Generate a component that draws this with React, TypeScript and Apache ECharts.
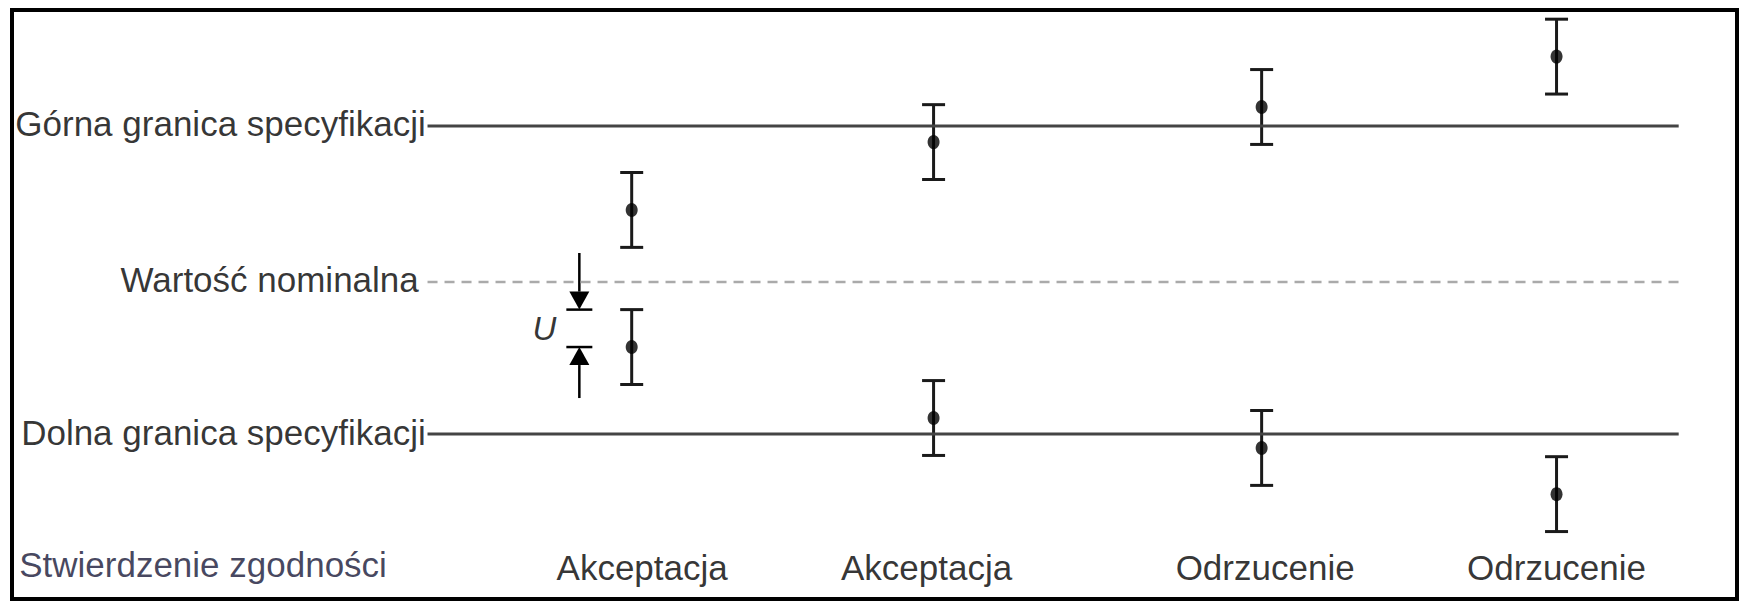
import React, { useEffect, useRef } from "react";
import * as echarts from "echarts";

// ---- data ----
const columnX = [36.2, 53.5, 72.3, 89.2];
const upperValues = [4.62, 8.97, 11.22, 14.45];
const lowerValues = [-4.17, -8.72, -10.64, -13.6];
const uncertainty = 2.4;

const verdicts = ["Akceptacja", "Akceptacja", "Odrzucenie", "Odrzucenie"];
const verdictX = [36.8, 53.1, 72.5, 89.2];
const verdictY = -18.3;

const upperSpec = 10;
const nominal = 0;
const lowerSpec = -9.75;
const limitStartX = 24.5;
const limitEndX = 96.2;
const limitLabels = ["Górna granica specyfikacji", "Wartość nominalna", "Dolna granica specyfikacji"];
const limitLabelX = [24.4, 24.0, 24.4];
const limitLabelY = [10.15, 0.15, -9.65];

const conformityTitle = "Stwierdzenie zgodności";
const conformityX = 1.1;
const conformityY = -18.14;

// U annotation: [x, from, to]
const uArrows = [
  [33.2, 1.86, -1.77],
  [33.2, -7.44, -4.17],
];
const uLabel = { x: 31.2, y: -2.95, text: "U" };

const X_MIN = 0;
const X_MAX = 100;
const Y_MIN = -20.58;
const Y_MAX = 18.08;

const FONT = "'Liberation Sans', Arial, Helvetica, sans-serif";

export default function App() {
  const ref = useRef<HTMLDivElement>(null);

  useEffect(() => {
    if (!ref.current) return;
    const chart = echarts.init(ref.current, null, { renderer: "svg" });

    const errorData: number[][] = [];
    columnX.forEach((x, i) => {
      errorData.push([x, upperValues[i] - uncertainty, upperValues[i] + uncertainty]);
      errorData.push([x, lowerValues[i] - uncertainty, lowerValues[i] + uncertainty]);
    });
    const pointData: number[][] = [];
    columnX.forEach((x, i) => {
      pointData.push([x, upperValues[i]]);
      pointData.push([x, lowerValues[i]]);
    });

    const option: any = {
      animation: false,
      backgroundColor: "#ffffff",
      grid: { left: 0, right: 0, top: 0, bottom: 0 },
      xAxis: { type: "value", min: X_MIN, max: X_MAX, show: false, splitLine: { show: false } },
      yAxis: { type: "value", min: Y_MIN, max: Y_MAX, show: false, splitLine: { show: false } },
      graphic: [
        {
          type: "rect",
          shape: { x: 12, y: 10, width: 1725, height: 589 },
          style: { fill: "none", stroke: "#000", lineWidth: 4 },
          z: 100,
          silent: true,
        },
      ],
      series: [
        {
          type: "line",
          data: [[limitStartX, upperSpec], [limitEndX, upperSpec]],
          symbol: "none",
          lineStyle: { color: "#444", width: 3 },
          silent: true,
        },
        {
          type: "line",
          data: [[limitStartX, lowerSpec], [limitEndX, lowerSpec]],
          symbol: "none",
          lineStyle: { color: "#444", width: 3 },
          silent: true,
        },
        {
          type: "line",
          data: [[limitStartX, nominal], [limitEndX, nominal]],
          symbol: "none",
          lineStyle: { color: "#aaa", width: 2.5, type: [10, 7] },
          silent: true,
        },
        {
          type: "custom",
          data: errorData,
          silent: true,
          renderItem: (params: any, api: any) => {
            const x = api.value(0);
            const lo = api.value(1);
            const hi = api.value(2);
            const top = api.coord([x, hi]);
            const bot = api.coord([x, lo]);
            const hw = 11.5;
            const st = { stroke: "#1a1a1a", lineWidth: 3 };
            return {
              type: "group",
              children: [
                { type: "line", shape: { x1: top[0], y1: top[1], x2: bot[0], y2: bot[1] }, style: st },
                { type: "line", shape: { x1: top[0] - hw, y1: top[1], x2: top[0] + hw, y2: top[1] }, style: st },
                { type: "line", shape: { x1: bot[0] - hw, y1: bot[1], x2: bot[0] + hw, y2: bot[1] }, style: st },
              ],
            };
          },
        },
        {
          type: "scatter",
          data: pointData,
          symbol: "circle",
          symbolSize: [12, 14],
          itemStyle: { color: "#000" },
          silent: true,
          z: 5,
        },
        {
          type: "custom",
          data: uArrows,
          silent: true,
          renderItem: (params: any, api: any) => {
            const x = api.value(0);
            const from = api.coord([x, api.value(1)]);
            const to = api.coord([x, api.value(2)]);
            const dir = to[1] > from[1] ? 1 : -1;
            const headLen = 18;
            const headHalf = 10;
            const tickHalf = 13;
            const st = { stroke: "#000", lineWidth: 2.5 };
            return {
              type: "group",
              children: [
                { type: "line", shape: { x1: from[0], y1: from[1], x2: to[0], y2: to[1] - dir * headLen }, style: st },
                {
                  type: "polygon",
                  shape: {
                    points: [
                      [to[0], to[1]],
                      [to[0] - headHalf, to[1] - dir * headLen],
                      [to[0] + headHalf, to[1] - dir * headLen],
                    ],
                  },
                  style: { fill: "#000" },
                },
                { type: "line", shape: { x1: to[0] - tickHalf, y1: to[1], x2: to[0] + tickHalf, y2: to[1] }, style: st },
              ],
            };
          },
        },
        {
          type: "scatter",
          data: limitLabels.map((t, i) => ({ name: t, value: [limitLabelX[i], limitLabelY[i]] })),
          symbolSize: 0,
          silent: true,
          label: {
            show: true,
            position: "left",
            distance: 0,
            formatter: "{b}",
            color: "#000",
            fontSize: 35,
            fontFamily: FONT,
          },
        },
        {
          type: "scatter",
          data: verdicts.map((t, i) => ({ name: t, value: [verdictX[i], verdictY] })),
          symbolSize: 0,
          silent: true,
          label: {
            show: true,
            position: "inside",
            formatter: "{b}",
            color: "#000",
            fontSize: 35,
            fontFamily: FONT,
          },
        },
        {
          type: "scatter",
          data: [{ name: conformityTitle, value: [conformityX, conformityY] }],
          symbolSize: 0,
          silent: true,
          label: {
            show: true,
            position: "right",
            distance: 0,
            formatter: "{b}",
            color: "#161636",
            fontSize: 35,
            fontFamily: FONT,
          },
        },
        {
          type: "scatter",
          data: [{ name: uLabel.text, value: [uLabel.x, uLabel.y] }],
          symbolSize: 0,
          silent: true,
          label: {
            show: true,
            position: "inside",
            formatter: "{b}",
            color: "#000",
            fontSize: 33,
            fontStyle: "italic",
            fontFamily: FONT,
          },
        },
      ],
    };

    chart.setOption(option);
    return () => chart.dispose();
  }, []);

  return (
    <div
      ref={ref}
      style={{ position: "fixed", left: 0, top: 0, width: 1745, height: 603, background: "#fff" }}
    />
  );
}
